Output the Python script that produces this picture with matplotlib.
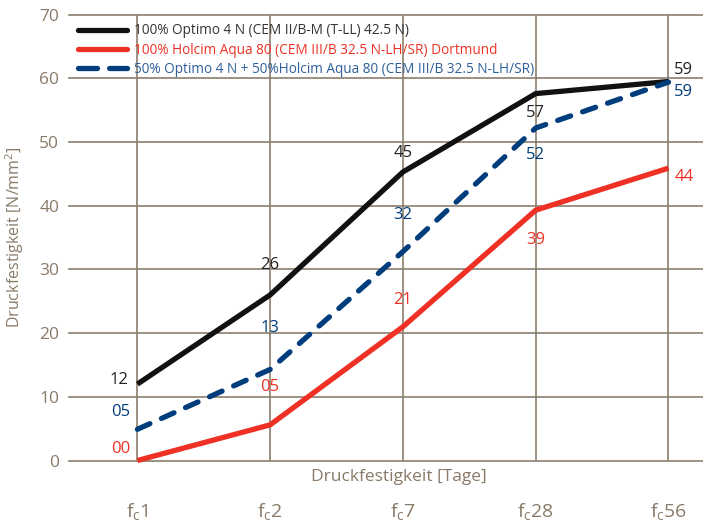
"""Druckfestigkeit chart: three cement mixes over curing age."""

import matplotlib
matplotlib.use("Agg")
import matplotlib.pyplot as plt
from matplotlib.lines import Line2D

# data
ages = ["1", "2", "7", "28", "56"]
optimo = [12.0, 26.0, 45.3, 57.6, 59.5]
holcim = [0.0, 5.6, 21.0, 39.3, 45.9]
mix = [4.9, 14.3, 32.8, 52.2, 59.4]
optimo_labels = ["12", "26", "45", "57", "59"]
holcim_labels = ["00", "05", "21", "39", "44"]
mix_labels = ["05", "13", "32", "52", "59"]
y_ticks = [0, 10, 20, 30, 40, 50, 60, 70]

names = [
    "100% Optimo 4 N (CEM II/B-M (T-LL) 42.5 N)",
    "100% Holcim Aqua 80 (CEM III/B 32.5 N-LH/SR) Dortmund",
    "50% Optimo 4 N + 50%Holcim Aqua 80 (CEM III/B 32.5 N-LH/SR)",
]

GRID = "#8c7e6e"
TEXT = "#8a7a68"
BLACK = "#111111"
RED = "#ee3124"
BLUE = "#003d7c"

plt.rcParams["font.family"] = ["Open Sans", "DejaVu Sans"]

fig = plt.figure(figsize=(7.03, 5.22), dpi=100)
ax = fig.add_axes([0.098, 0.1178, 0.902, 0.8542])
x = list(range(len(ages)))

# grid: horizontal lines full width, vertical ones only inside the data range
for v in y_ticks:
    ax.axhline(v, color=GRID, lw=1.2, zorder=1, clip_on=False)
for xi in x:
    ax.plot([xi, xi], [0, 70], color=GRID, lw=1.2, zorder=1)

ax.plot(x, optimo, color=BLACK, lw=3.8, solid_capstyle="butt", zorder=3,
        clip_on=False)
ax.plot(x, holcim, color=RED, lw=3.8, solid_capstyle="butt", zorder=3,
        clip_on=False)
ax.plot(x, mix, color=BLUE, lw=3.8, ls=(0, (2.6, 2.4)), dash_capstyle="round",
        zorder=3, clip_on=False)

# value labels (offsets in points from the data point)
off_black = [(-13, 3), (0, 21.5), (0, 14), (0, -14), (11, 8.5)]
off_red = [(-12, 8), (0, 27), (0, 19), (0, -21.5), (11, -6.5)]
off_blue = [(-12, 12.7), (0, 30), (0, 26), (0, -19.4), (11, -7)]
for vals, labs, offs, col in [(optimo, optimo_labels, off_black, "#222222"),
                              (holcim, holcim_labels, off_red, RED),
                              (mix, mix_labels, off_blue, BLUE)]:
    for xi, v, lab, (dx, dy) in zip(x, vals, labs, offs):
        ax.annotate(lab, (xi, v), xytext=(dx, dy), textcoords="offset points",
                    ha="center", va="center", fontsize=12, color=col, zorder=4)

ax.set_xlim(-0.516, 4.26)
ax.set_ylim(0, 70)
ax.set_yticks(y_ticks)
ax.set_xticks(x)
ax.set_xticklabels([r"f$_\mathregular{c}$" + a for a in ages])
ax.tick_params(length=0, colors=TEXT, labelsize=12.5)
ax.tick_params(axis="x", pad=30, labelsize=14)
ax.tick_params(axis="y", pad=7)
for s in ax.spines.values():
    s.set_visible(False)

ax.set_ylabel(r"Druckfestigkeit [N/mm$^\mathregular{2}$]", color=TEXT,
              fontsize=11.5)
ax.yaxis.set_label_coords(-0.068, 0.5)
ax.text(0.52, -0.037, "Druckfestigkeit [Tage]", transform=ax.transAxes,
        ha="center", va="center", color=TEXT, fontsize=12.5)

handles = [
    Line2D([], [], color=BLACK, lw=3.8, solid_capstyle="round"),
    Line2D([], [], color=RED, lw=3.8, solid_capstyle="round"),
    Line2D([], [], color=BLUE, lw=3.8, ls=(0, (3.6, 2.3)),
           dash_capstyle="round"),
]
leg = ax.legend(handles, names, loc="upper left", bbox_to_anchor=(0.0, 1.0),
                frameon=False, fontsize=9.8, handlelength=3.6,
                handletextpad=0.55, labelspacing=0.3, borderaxespad=0.25)
for t, c in zip(leg.get_texts(), ["#333333", RED, "#2d5f9a"]):
    t.set_color(c)

fig.savefig("out.png", dpi=100)
